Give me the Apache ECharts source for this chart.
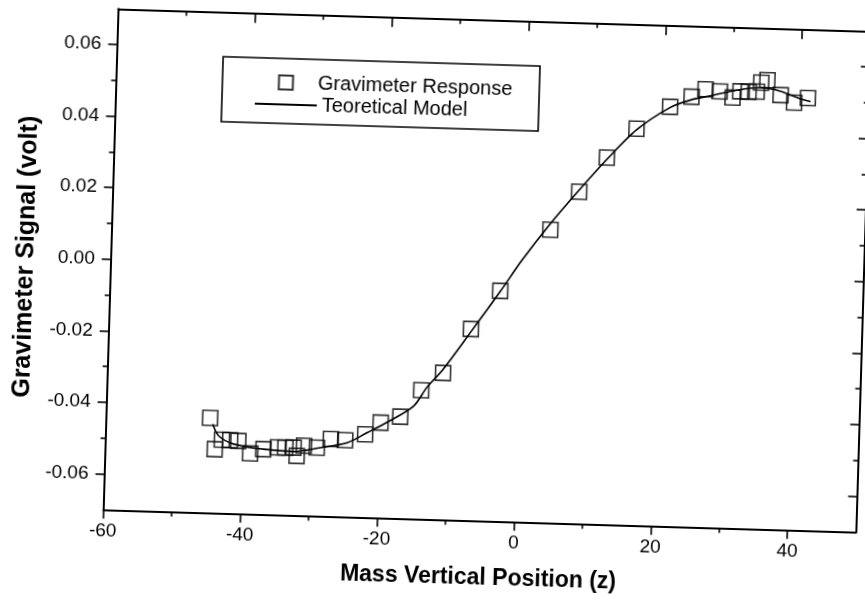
<!DOCTYPE html>
<html><head><meta charset="utf-8">
<script src="https://cdn.jsdelivr.net/npm/echarts@6/dist/echarts.min.js"></script>
<style>
html,body{margin:0;padding:0;background:#fff;overflow:hidden;width:865px;height:603px}
#c{width:865px;height:603px;transform:rotate(1.7deg);transform-origin:50% 50%;background:#fff}
</style></head><body><div id="c"></div>
<script>
// measured data (Gravimeter Response)
const dataX = [-44.8,-44.0,-43.0,-41.8,-40.6,-38.8,-36.9,-34.8,-33.7,-32.5,-32.0,-31.0,-29.1,-27.1,-25.0,-22.1,-19.9,-17.05,-14.1,-11.0,-7.1,-3.0,4.05,8.1,12.0,16.2,21.0,24.1,26.1,28.2,30.1,31.2,32.4,33.6,34.2,35.1,37.1,39.1,41.1];
const dataY = [-0.0435,-0.0522,-0.0495,-0.0495,-0.0497,-0.0531,-0.0518,-0.0512,-0.0512,-0.0511,-0.0534,-0.0505,-0.0509,-0.0484,-0.0486,-0.0468,-0.0434,-0.0416,-0.0340,-0.0290,-0.0165,-0.0056,0.0119,0.0227,0.0325,0.0408,0.0472,0.0502,0.0524,0.0519,0.0503,0.0521,0.0521,0.0522,0.0547,0.0555,0.0514,0.0494,0.0508];
// theoretical model curve
const modelX = [-44.4,-43.5,-41.3,-36.9,-32.5,-28.6,-24.7,-21.8,-19.0,-15.15,-13.3,-11,-7,-3,0,4,8,12,16.2,21,24,26.8,30.2,34.1,37,40,41.5];
const modelY = [-0.0452,-0.0484,-0.0506,-0.0518,-0.0522,-0.0509,-0.0493,-0.0463,-0.0433,-0.0385,-0.0332,-0.0280,-0.0170,-0.0058,0.0030,0.0135,0.0230,0.0320,0.0405,0.0470,0.0493,0.0506,0.0522,0.0533,0.0525,0.0505,0.0498];
// axis ticks / labels
const xMajor = [-60,-40,-20,0,20,40];
const xMinor = [-50,-30,-10,10,30];
const yMajor = [-0.06,-0.04,-0.02,0,0.02,0.04,0.06];
const yMinor = [-0.05,-0.03,-0.01,0.01,0.03,0.05];
const xRange = [-60,50];
const yRange = [-0.07,0.07];
const seriesNames = ['Gravimeter Response','Teoretical Model'];
const xTitle = 'Mass Vertical Position (z)';
const yTitle = 'Gravimeter Signal (volt)';

const FONT = "'Liberation Sans', Arial, sans-serif";
const chart = echarts.init(document.getElementById('c'), null, {renderer:'canvas'});

function ax(kind, pos, ticks, len, inside, showLine, labels, extra){
  const r = kind==='x' ? xRange : yRange;
  const o = {
    type:'value', position:pos, min:r[0], max:r[1], offset:0,
    axisLine:{show:showLine, onZero:false, lineStyle:{color:'#000', width:2}},
    axisTick:{show:true, inside:inside, length:len, customValues:ticks, lineStyle:{color:'#000', width:1.6}},
    axisLabel:{show:!!labels},
    splitLine:{show:false}, minorTick:{show:false}
  };
  if (labels) {
    o.axisLabel = {show:true, customValues:labels, color:'#000', fontFamily:FONT, fontSize:19,
      margin: kind==='x'?12:16,
      formatter: v => kind==='x' ? String(Math.round(v)) : (Math.abs(v)<1e-9 ? '0.00' : v.toFixed(2))};
  }
  return Object.assign(o, extra||{});
}

const option = {
  backgroundColor:'#fff',
  animation:false,
  grid:{left:109.7, top:18.3, width:753, height:501},
  xAxis:[
    ax('x','bottom',xMajor,9,false,true,xMajor,{name:xTitle, nameLocation:'middle', nameGap:46,
      nameTextStyle:{color:'#000', fontFamily:FONT, fontSize:23, fontWeight:'bold'}}),
    ax('x','bottom',xMinor,5,false,false,null),
    ax('x','top',xMajor,10,true,true,null),
    ax('x','top',xMinor,5,true,false,null)
  ],
  yAxis:[
    ax('y','left',yMajor,9,false,true,yMajor,{name:yTitle, nameLocation:'middle', nameGap:72,
      nameTextStyle:{color:'#000', fontFamily:FONT, fontSize:25, fontWeight:'bold'}}),
    ax('y','left',yMinor,5,false,false,null),
    ax('y','right',yMajor,9,true,true,null),
    ax('y','right',yMinor,5,true,false,null)
  ],
  legend:[
    {data:[seriesNames[0]], left:271.5, top:77, padding:0, orient:'vertical', itemWidth:14, itemHeight:14, selectedMode:false,
     textStyle:{color:'#000', fontFamily:FONT, fontSize:20, padding:[0,0,0,20]}},
    {data:[{name:seriesNames[1], icon:'rect'}], left:249, top:99, padding:0, orient:'vertical', itemWidth:62, itemHeight:2, selectedMode:false,
     itemStyle:{color:'#000'},
     textStyle:{color:'#000', fontFamily:FONT, fontSize:20}}
  ],
  graphic:[
    {type:'rect', shape:{x:216, y:63, width:317, height:65}, style:{fill:'none', stroke:'#000', lineWidth:1.6}, z:1}
  ],
  series:[
    {name:seriesNames[0], type:'scatter', xAxisIndex:0, yAxisIndex:0,
     symbol:'rect', symbolSize:15,
     itemStyle:{color:'rgba(0,0,0,0)', borderColor:'#000', borderWidth:1.6},
     data: dataX.map((x,i)=>[x, dataY[i]]), z:3},
    {name:seriesNames[1], type:'line', xAxisIndex:0, yAxisIndex:0, smooth:0.3, symbol:'none', showSymbol:false,
     lineStyle:{color:'#000', width:1.6}, itemStyle:{color:'#000'},
     data: modelX.map((x,i)=>[x, modelY[i]]), z:2}
  ]
};
chart.setOption(option);
</script></body></html>
